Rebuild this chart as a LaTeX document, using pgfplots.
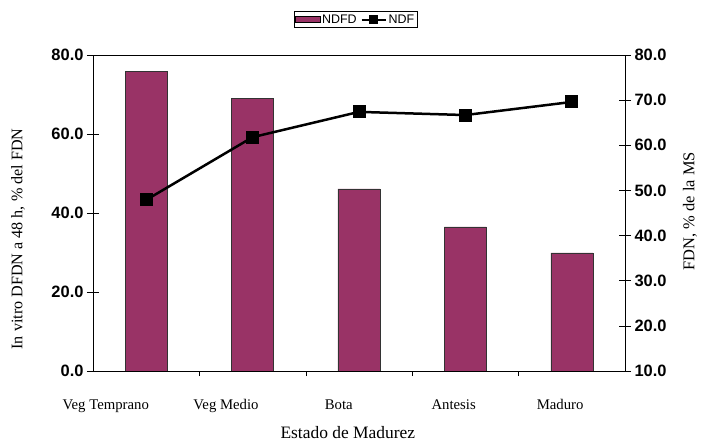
\documentclass[border=0pt]{standalone}
\usepackage{fontspec}
\setmainfont{Liberation Serif}
\setsansfont{Liberation Sans}
\usepackage{pgfplots}
\pgfplotsset{compat=1.18}
\definecolor{plum}{HTML}{993366}
\begin{document}
\begin{tikzpicture}
\pgfplotsset{
  base/.style={at={(0,0)}, anchor=south west, scale only axis,
    width=532bp, height=316bp, xmin=-0.5, xmax=4.5},
}
% bars, left axis
\begin{axis}[base,
  ymin=0, ymax=80,
  ytick={0,20,40,60,80}, ytick pos=left,
  tick align=center, major tick length=12bp,
  tick style={black, line width=0.6pt},
  axis line style={black, line width=0.7pt},
  yticklabel style={font=\sffamily\bfseries\fontsize{16.5}{16.5}\selectfont,
    /pgf/number format/.cd, fixed, fixed zerofill, precision=1, assume math mode=true},
  xtick={-0.38,0.75,1.81,2.89,3.89},
  xticklabels={Veg Temprano,Veg Medio,Bota,Antesis,Maduro},
  xtick pos=bottom, xtick style={draw=none},
  xticklabel style={font=\fontsize{14.8}{14.8}\selectfont, anchor=north, yshift=-19bp},
  xlabel={Estado de Madurez},
  xlabel style={font=\fontsize{17.5}{17.5}\selectfont, at={(axis description cs:0.479,-0.196)}, anchor=center},
  ylabel={In vitro DFDN a 48 h, \% del FDN},
  ylabel style={font=\fontsize{16.2}{16.2}\selectfont, at={(axis description cs:-0.141,0.418)}, anchor=center},
]
\addplot[ybar, bar width=42bp, fill=plum, draw=black!80, line width=0.5pt]
  coordinates {(0,75.9) (1,69.1) (2,46.1) (3,36.5) (4,29.9)};
\end{axis}
% x boundary ticks
\begin{axis}[base, ymin=0, ymax=80,
  axis x line*=bottom, axis y line=none,
  axis line style={black, line width=0.7pt},
  xtick={0.5,1.5,2.5,3.5}, xticklabels={},
  tick align=outside, major tick length=5bp,
  tick style={black, line width=0.6pt},
]
\end{axis}
% line, right axis
\begin{axis}[base,
  ymin=10, ymax=80,
  axis y line*=right, axis x line=none,
  axis line style={black, line width=0.7pt},
  ytick={10,20,...,80},
  tick align=center, major tick length=12bp,
  tick style={black, line width=0.6pt},
  yticklabel style={font=\sffamily\bfseries\fontsize{16.5}{16.5}\selectfont,
    /pgf/number format/.cd, fixed, fixed zerofill, precision=1, assume math mode=true},
  ylabel={FDN, \% de la MS},
  ylabel style={font=\fontsize{16.5}{16.5}\selectfont, at={(axis description cs:1.122,0.506)}, anchor=center},
  legend columns=2,
  legend style={at={(axis description cs:0.494,1.112)}, anchor=center,
    font=\sffamily\fontsize{12.5}{12.5}\selectfont, draw=black, line width=0.5pt,
    inner sep=1pt, /tikz/every even column/.append style={column sep=2bp}},
]
\addlegendimage{legend image code/.code={\filldraw[fill=plum, draw=black, line width=0.5pt] (0cm,-0.1cm) rectangle (0.85cm,0.12cm);}}
\addlegendentry{NDFD}
\addplot[black, line width=2.5bp, mark=square*, mark size=6bp, mark options={line width=0pt},
  legend image code/.code={\draw[black, line width=1.8bp] (0cm,0cm) -- (0.85cm,0cm);
    \fill[black] (0.425cm,0cm) ++(-3bp,-3bp) rectangle ++(6bp,6bp);}]
  coordinates {(0,47.9) (1,61.8) (2,67.4) (3,66.7) (4,69.6)};
\addlegendentry{NDF}
\end{axis}
\path[use as bounding box] (-93bp,-70bp) rectangle (610bp,371bp);
\end{tikzpicture}
\end{document}
